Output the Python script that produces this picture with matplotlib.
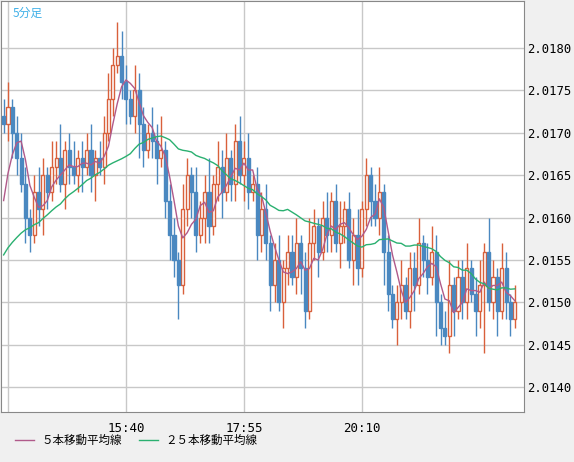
import numpy as np
import matplotlib.pyplot as plt

plt.rcParams['font.family'] = ['Noto Sans CJK JP', 'DejaVu Sans']

# closes for 118 five-minute bars (open = previous close)
closes = [2.0171, 2.0173, 2.0170, 2.0167, 2.0164, 2.0160, 2.0158, 2.0163, 2.0161, 2.0165,
          2.0163, 2.0166, 2.0167, 2.0164, 2.0168, 2.0166, 2.0165, 2.0167, 2.0166, 2.0168, 2.0165, 2.0167, 2.0166,
          2.0170, 2.0174, 2.0178, 2.0179, 2.0176, 2.0174,
          2.0172, 2.0175, 2.0171, 2.0168, 2.0170, 2.0169, 2.0167, 2.0168,
          2.0162, 2.0158, 2.0155, 2.0152, 2.0161, 2.0165, 2.0163, 2.0158, 2.0160,
          2.0163, 2.0159, 2.0164, 2.0166, 2.0163, 2.0167, 2.0164, 2.0169, 2.0165,
          2.0167, 2.0163, 2.0164, 2.0158, 2.0161, 2.0157, 2.0152,
          2.0155, 2.0150, 2.0154, 2.0156, 2.0153, 2.0157, 2.0154, 2.0149, 2.0157,
          2.0159, 2.0156, 2.0160, 2.0158, 2.0162, 2.0157, 2.0159, 2.0161,
          2.0155, 2.0158, 2.0154, 2.0161, 2.0165, 2.0162, 2.0160, 2.0163,
          2.0156, 2.0151, 2.0148, 2.0150, 2.0152, 2.0149, 2.0154,
          2.0152, 2.0157, 2.0155, 2.0153, 2.0156, 2.0150, 2.0147,
          2.0146, 2.0152, 2.0149, 2.0153, 2.0150, 2.0154, 2.0151, 2.0149,
          2.0152, 2.0156, 2.0150, 2.0153, 2.0149, 2.0154, 2.0150, 2.0148, 2.0150]
first_open = 2.0172
# closes before the visible window (used for the moving averages)
prior = [2.0152, 2.0154, 2.0153, 2.0151, 2.0150, 2.0152, 2.0154, 2.0155, 2.0153, 2.0152,
         2.0154, 2.0156, 2.0155, 2.0153, 2.0154, 2.0156, 2.0157, 2.0155, 2.0156, 2.0158,
         2.0157, 2.0159, 2.0160, 2.0163]
# wick lengths in pips
up_wick = [2, 3, 1, 2, 3, 2, 1, 2, 3, 2, 1, 3, 2, 4, 1, 2, 3, 1, 2, 2, 3, 1, 2,
           2, 3, 2, 4, 3, 2, 1, 3, 2, 2, 1, 3, 2, 4, 1, 2, 2, 1, 3, 2, 1, 3, 2,
           2, 4, 1, 3, 2, 3, 1, 2, 3, 2, 3, 1, 2, 2, 3, 1, 2, 3, 1, 2, 2, 3, 1, 2,
           3, 2, 1, 2, 3, 1, 2, 3, 1, 2, 2, 3, 1, 2, 1, 2, 3, 1, 2, 1, 2, 3, 1, 2,
           2, 3, 1, 2, 3, 2, 1, 2, 3, 1, 2, 2, 3, 1, 2, 3, 1, 4, 2, 1, 3, 2, 1, 2]
dn_wick = [1, 2, 3, 2, 1, 3, 2, 1, 2, 3, 2, 1, 2, 1, 3, 2, 1, 2, 3, 1, 2, 3, 1,
           2, 1, 2, 1, 2, 3, 1, 2, 4, 2, 1, 2, 3, 1, 2, 3, 2, 4, 1, 2, 3, 2, 1,
           3, 2, 1, 2, 3, 1, 2, 2, 1, 3, 2, 1, 3, 2, 2, 3, 2, 1, 3, 2, 1, 2, 3, 2,
           1, 2, 3, 1, 2, 2, 1, 3, 2, 1, 3, 2, 1, 2, 3, 1, 2, 4, 2, 1, 3, 2, 1, 2,
           3, 1, 2, 2, 1, 4, 2, 1, 2, 3, 1, 2, 2, 1, 3, 2, 8, 1, 2, 3, 1, 2, 2, 1]
tick_bars = [1, 28, 55, 82]
tick_labels = ['', '15:40', '17:55', '20:10']

up_col = '#d9603b'
dn_col = '#4a88c0'

c = np.array(closes)
o = np.concatenate([[first_open], c[:-1]])
hi = np.maximum(o, c) + np.array(up_wick[:len(c)]) * 1e-4
lo = np.minimum(o, c) - np.array(dn_wick[:len(c)]) * 1e-4
x = np.arange(len(c))

full = np.concatenate([prior, c])
ma5 = np.convolve(full, np.ones(5) / 5, mode='valid')[-len(c):]
ma25 = np.convolve(full, np.ones(25) / 25, mode='valid')[-len(c):]

fig = plt.figure(figsize=(5.74, 4.62), dpi=100, facecolor='#f0f0f0')
ax = fig.add_axes([1 / 574, 50 / 462, 523 / 574, 411 / 462])
ax.set_facecolor('white')

up = c >= o
ax.vlines(x[up], lo[up], hi[up], color=up_col, lw=1)
ax.vlines(x[~up], lo[~up], hi[~up], color=dn_col, lw=1)
body = np.maximum(np.abs(c - o), 1e-5)
ax.bar(x[up], body[up], bottom=np.minimum(o, c)[up], width=0.7,
       facecolor='white', edgecolor=up_col, lw=1, zorder=3)
ax.bar(x[~up], body[~up], bottom=np.minimum(o, c)[~up], width=0.7,
       facecolor=dn_col, edgecolor=dn_col, lw=1, zorder=3)
ax.plot(x, ma5, color='#b05a8a', lw=1, zorder=4)
ax.plot(x, ma25, color='#2ab070', lw=1, zorder=4)

ax.set_xlim(-0.6, 119.1)
ax.set_ylim(2.01371, 2.01855)
ax.set_xticks(tick_bars)
ax.set_xticklabels(tick_labels, family='DejaVu Sans Mono', fontsize=9)
yt = np.arange(2.0140, 2.01801, 0.0005)
ax.set_yticks(yt)
ax.set_yticklabels([f'{v:.4f}' for v in yt], family='DejaVu Sans Mono', fontsize=8.8)
ax.yaxis.tick_right()
ax.tick_params(length=0, pad=2)
ax.tick_params(axis='x', pad=7)
ax.grid(True, color='#c8c8c8', lw=1)
ax.set_axisbelow(True)
for s in ax.spines.values():
    s.set_color('#888888')

ax.text(0.022, 0.985, '5分足', transform=ax.transAxes, color='#40b0e8',
        fontsize=8.5, va='top', ha='left')

ly = 1 - 440 / 462
fig.lines.append(plt.Line2D([15 / 574, 34 / 574], [ly] * 2,
                            color='#b05a8a', lw=1, transform=fig.transFigure))
fig.text(41 / 574, ly, '５本移動平均線', fontsize=8.3, va='center')
fig.lines.append(plt.Line2D([139 / 574, 158 / 574], [ly] * 2,
                            color='#2ab070', lw=1, transform=fig.transFigure))
fig.text(165 / 574, ly, '２５本移動平均線', fontsize=8.3, va='center')

fig.savefig('out.png', dpi=100, facecolor=fig.get_facecolor())
